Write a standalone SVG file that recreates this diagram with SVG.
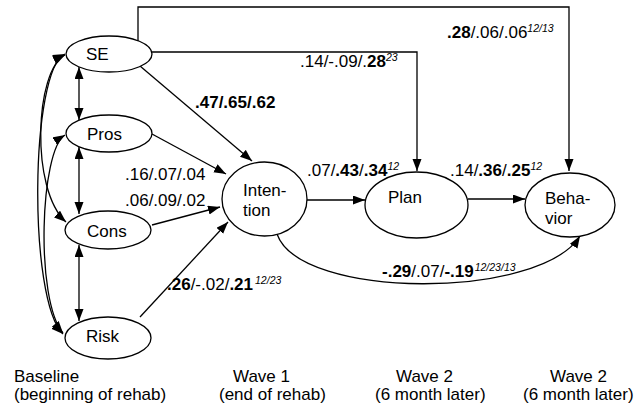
<svg xmlns="http://www.w3.org/2000/svg" width="636" height="408" viewBox="0 0 636 408">
<style>
text{font-family:"Liberation Sans",Arial,sans-serif;font-size:17px;fill:#000}
.n{fill:#fff;stroke:#000;stroke-width:1.3}
.c{fill:none;stroke:#000;stroke-width:1.3}
.b{font-weight:bold}
.s{font-size:10.5px;font-style:italic}
</style>
<defs>
<marker id="ah" markerUnits="userSpaceOnUse" markerWidth="13" markerHeight="10" refX="12" refY="4.5" orient="auto-start-reverse">
<path d="M0,0 L12,4.5 L0,9 z" fill="#000"/>
</marker>
</defs>
<rect width="636" height="408" fill="#fff"/>
<g id="connectors">
<path class="c" d="M138,41 V7 H569 V171" marker-end="url(#ah)"/>
<path class="c" d="M152,52 H417 V171" marker-end="url(#ah)"/>
<path class="c" d="M140,66 L252,161" marker-end="url(#ah)"/>
<path class="c" d="M152,134 L226,174" marker-end="url(#ah)"/>
<path class="c" d="M152,225 L220,207" marker-end="url(#ah)"/>
<path class="c" d="M140,317 L228,222" marker-end="url(#ah)"/>
<path class="c" d="M307,200 H365" marker-end="url(#ah)"/>
<path class="c" d="M468,199 H525" marker-end="url(#ah)"/>
<path class="c" d="M277,234 C300,300 540,300 580,236" marker-end="url(#ah)"/>
<path class="c" d="M79,67 V120" marker-start="url(#ah)" marker-end="url(#ah)"/>
<path class="c" d="M79,147 V214" marker-start="url(#ah)" marker-end="url(#ah)"/>
<path class="c" d="M79,245 V321" marker-start="url(#ah)" marker-end="url(#ah)"/>
<path class="c" d="M65,54 C30,70 28,300 63,334" marker-start="url(#ah)" marker-end="url(#ah)"/>
<path class="c" d="M65,55 C35,70 30,190 66,222" marker-start="url(#ah)" marker-end="url(#ah)"/>
<path class="c" d="M65,135 C40,150 35,300 63,333" marker-start="url(#ah)" marker-end="url(#ah)"/>
</g>
<g id="SE"><ellipse class="n" cx="109" cy="54" rx="43" ry="18"/><text x="86" y="60">SE</text></g>
<g id="Pros"><ellipse class="n" cx="109" cy="133.5" rx="43" ry="18.5"/><text x="87" y="140">Pros</text></g>
<g id="Cons"><ellipse class="n" cx="108" cy="230" rx="43" ry="19"/><text x="87" y="237">Cons</text></g>
<g id="Risk"><ellipse class="n" cx="108" cy="338" rx="43" ry="21"/><text x="86" y="342">Risk</text></g>
<g id="Intention"><ellipse class="n" cx="264.5" cy="199" rx="42.5" ry="37"/><text x="243" y="196">Inten-</text><text x="243" y="216">tion</text></g>
<g id="Plan"><ellipse class="n" cx="416.5" cy="205" rx="51.5" ry="33"/><text x="388" y="203">Plan</text></g>
<g id="Behavior"><ellipse class="n" cx="570" cy="205" rx="45" ry="32"/><text x="545" y="204">Beha-</text><text x="545" y="224">vior</text></g>
<g id="labels">
<text x="195" y="108" class="b">.47/.65/.62</text>
<text x="125" y="180">.16/.07/.04</text>
<text x="125" y="206">.06/.09/.02</text>
<text x="167" y="290"><tspan class="b">.26</tspan>/-.02/<tspan class="b">.21</tspan><tspan class="s" dx="2" dy="-6">12/23</tspan></text>
<text x="300" y="67">.14/-.09/.<tspan class="b">28</tspan><tspan class="s" dy="-6">23</tspan></text>
<text x="447" y="38"><tspan class="b">.28</tspan>/.06/.06<tspan class="s" dy="-6">12/13</tspan></text>
<text x="307" y="176">.07/<tspan class="b">.43</tspan>/<tspan class="b">.34</tspan><tspan class="s" dy="-6">12</tspan></text>
<text x="450" y="176">.14/<tspan class="b">.36</tspan>/<tspan class="b">.25</tspan><tspan class="s" dy="-6">12</tspan></text>
<text x="382" y="277"><tspan class="b">-.29</tspan>/.07/<tspan class="b">-.19</tspan><tspan class="s" dx="1" dy="-6">12/23/13</tspan></text>
<text x="14" y="382">Baseline</text>
<text x="14" y="400">(beginning of rehab)</text>
<text x="233" y="382">Wave 1</text>
<text x="219" y="400">(end of rehab)</text>
<text x="396" y="382">Wave 2</text>
<text x="375" y="400">(6 month later)</text>
<text x="550" y="382">Wave 2</text>
<text x="523" y="400">(6 month later)</text>
</g>
</svg>
